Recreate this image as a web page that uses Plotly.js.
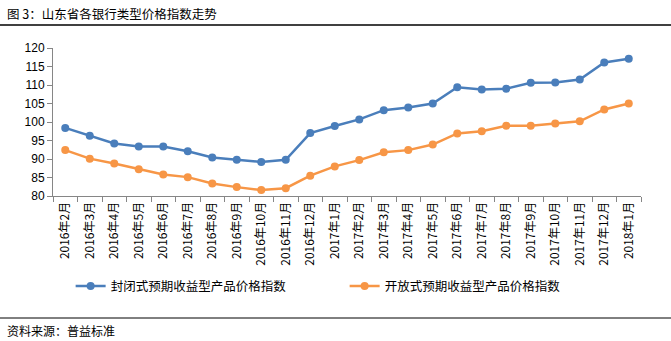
<!DOCTYPE html>
<html>
<head>
<meta charset="utf-8">
<script src="https://cdn.plot.ly/plotly-3.0.1.min.js"></script>
<style>html,body{margin:0;padding:0;background:#fff;}#chart{width:671px;height:341px;}</style>
</head>
<body>
<div id="chart"></div>
<script>
var months = ["2016年2月","2016年3月","2016年4月","2016年5月","2016年6月","2016年7月","2016年8月","2016年9月","2016年10月","2016年11月","2016年12月","2017年1月","2017年2月","2017年3月","2017年4月","2017年5月","2017年6月","2017年7月","2017年8月","2017年9月","2017年10月","2017年11月","2017年12月","2018年1月"];
var closedIndex = [98.4,96.3,94.2,93.4,93.4,92.1,90.4,89.8,89.2,89.8,97.0,98.9,100.7,103.2,103.9,105.0,109.4,108.8,109.0,110.6,110.7,111.5,116.1,117.1];
var openIndex = [92.4,90.1,88.8,87.2,85.8,85.1,83.4,82.4,81.6,82.1,85.5,88.0,89.7,91.8,92.4,93.9,96.9,97.5,99.0,99.0,99.6,100.2,103.4,105.0];
var seriesNames = ["封闭式预期收益型产品价格指数","开放式预期收益型产品价格指数"];
var yTicks = [80,85,90,95,100,105,110,115,120];

var FONT = "Liberation Sans, Arial, Noto Sans CJK SC, sans-serif";
var CJK = "Noto Sans CJK SC, sans-serif";

var traces = [
  {x: months, y: closedIndex, name: seriesNames[0], type: "scatter", mode: "lines+markers",
   line: {color: "#4A7EBB", width: 2.5}, marker: {color: "#4A7EBB", size: 8}},
  {x: months, y: openIndex, name: seriesNames[1], type: "scatter", mode: "lines+markers",
   line: {color: "#F79646", width: 2.5}, marker: {color: "#F79646", size: 8}}
];

var layout = {
  width: 671, height: 341,
  margin: {l: 53, r: 30, t: 48, b: 145},
  paper_bgcolor: "#fff", plot_bgcolor: "#fff",
  font: {family: FONT, size: 12, color: "#000"},
  showlegend: true,
  legend: {orientation: "h", x: 0.03, y: -0.61, xanchor: "left", yanchor: "middle",
           entrywidth: 229, entrywidthmode: "pixels",
           font: {family: CJK, size: 12.5, color: "#000"}, bgcolor: "rgba(0,0,0,0)"},
  xaxis: {type: "category", range: [-0.5, 23.5], tickmode: "array", tickvals: months, ticktext: months,
          tickangle: -90, tickson: "boundaries", ticks: "outside", ticklen: 5, tickcolor: "#868686",
          showline: true, linecolor: "#868686", linewidth: 1, showgrid: false, zeroline: false,
          tickfont: {family: CJK, size: 12, color: "#000"}},
  yaxis: {range: [80, 120], tickmode: "array", tickvals: yTicks, ticks: "outside", ticklen: 5,
          tickcolor: "#868686", showline: true, linecolor: "#868686", linewidth: 1,
          showgrid: false, zeroline: false, tickfont: {family: FONT, size: 12, color: "#000"}},
  annotations: [
    {text: "图 3：山东省各银行类型价格指数走势", xref: "paper", yref: "paper", x: -53/588, y: 1 + 35/148,
     xanchor: "left", yanchor: "middle", showarrow: false, xshift: 5,
     font: {family: CJK, size: 12.5, color: "#000"}},
    {text: "资料来源：普益标准", xref: "paper", yref: "paper", x: -53/588, y: -134/148,
     xanchor: "left", yanchor: "middle", showarrow: false, xshift: 5,
     font: {family: CJK, size: 12, color: "#000"}}
  ],
  shapes: [
    {type: "line", xref: "paper", yref: "paper", x0: -53/588, x1: 1 + 30/588, y0: 1 + 23/148, y1: 1 + 23/148,
     line: {color: "#000", width: 1.5}},
    {type: "line", xref: "paper", yref: "paper", x0: -53/588, x1: 1 + 30/588, y0: -122/148, y1: -122/148,
     line: {color: "#000", width: 1}}
  ]
};

Plotly.newPlot("chart", traces, layout, {staticPlot: true, displayModeBar: false});
</script>
</body>
</html>
